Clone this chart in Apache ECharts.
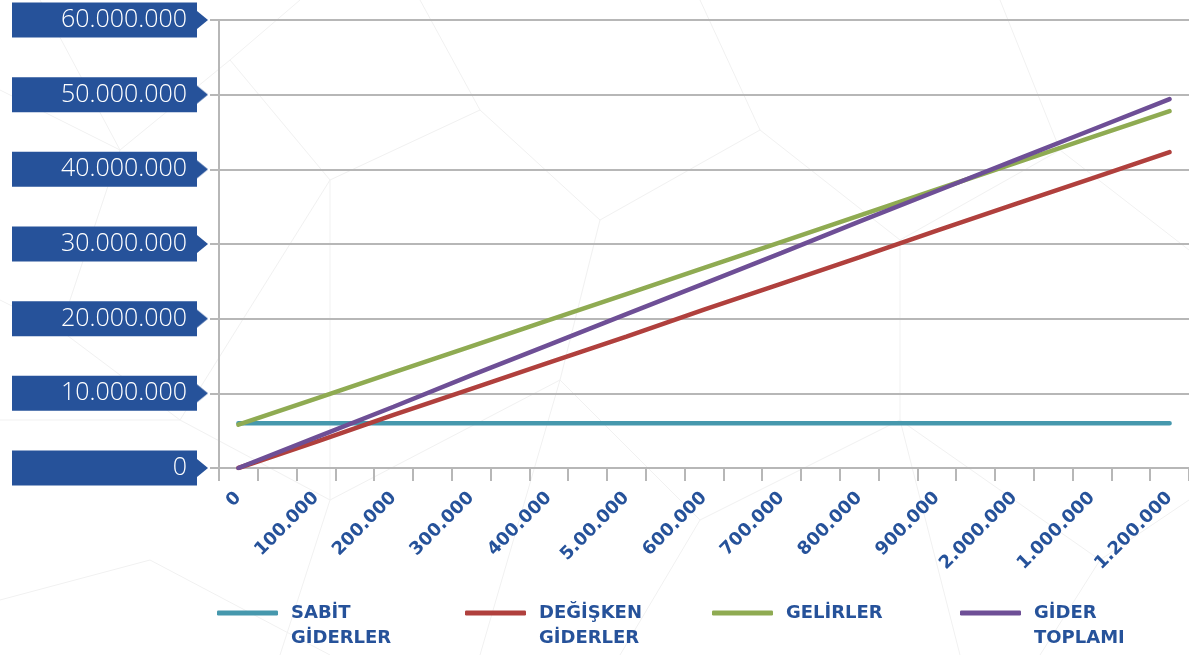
<!DOCTYPE html>
<html>
<head>
<meta charset="utf-8">
<title>Başabaş Noktası</title>
<script src="https://cdn.jsdelivr.net/npm/echarts@6/dist/echarts.min.js"></script>
<style>
html, body { margin: 0; padding: 0; background: #fff; }
#chart { width: 1189px; height: 655px; }
</style>
</head>
<body>
<div id="chart"></div>
<script>
// x ekseni etiketleri (görseldeki haliyle)
const xLabels = ['0', '100.000', '200.000', '300.000', '400.000', '5.00.000', '600.000',
    '700.000', '800.000', '900.000', '2.000.000', '1.000.000', '1.200.000'];

// seriler
const seriesNames = ['SABİT\nGİDERLER', 'DEĞİŞKEN\nGİDERLER', 'GELİRLER', 'GİDER\nTOPLAMI'];
const sabitGiderler = [6000000, 6000000, 6000000, 6000000, 6000000, 6000000, 6000000,
    6000000, 6000000, 6000000, 6000000, 6000000, 6000000];
const degiskenGiderler = [0, 3500000, 7100000, 10600000, 14100000, 17600000, 21200000,
    24700000, 28200000, 31800000, 35300000, 38800000, 42300000];
const gelirler = [5800000, 9300000, 12800000, 16300000, 19800000, 23300000, 26800000,
    30300000, 33800000, 37300000, 40800000, 44300000, 47800000];
const giderToplami = [0, 4100000, 8200000, 12400000, 16500000, 20600000, 24700000,
    28800000, 33000000, 37100000, 41200000, 45300000, 49400000];

const colors = ['#4698ad', '#b0403d', '#8fab52', '#6e4f96'];
const blue = '#26529a';
const gray = '#b7b7b7';

// her etiket arasinda bir ara tik var
const xCategories = [];
xLabels.forEach((l, i) => {
    xCategories.push(l);
    if (i < xLabels.length - 1) xCategories.push('');
});

const toPairs = arr => arr.map((v, i) => [i * 2, v]);
const fmt = v => String(v).replace(/\B(?=(\d{3})+(?!\d))/g, '.');

// etiket kutusunun ucundaki ok
const tri = document.createElement('canvas');
tri.width = 11;
tri.height = 18;
const tctx = tri.getContext('2d');
tctx.fillStyle = blue;
tctx.beginPath();
tctx.moveTo(0, 0);
tctx.lineTo(11, 9);
tctx.lineTo(0, 18);
tctx.closePath();
tctx.fill();

// arka plandaki soluk desen
const bgLines = [
    [[0, 90], [120, 150], [230, 60], [330, 180], [480, 110], [600, 220], [760, 130], [900, 240], [1060, 150], [1189, 250]],
    [[40, 0], [120, 150], [60, 330], [180, 420], [330, 180]],
    [[230, 60], [300, 0]], [[480, 110], [420, 0]], [[760, 130], [700, 0]], [[1060, 150], [1000, 0]],
    [[0, 420], [180, 420], [330, 500], [560, 380], [700, 520], [900, 420], [1100, 560], [1189, 500]],
    [[60, 330], [0, 300]], [[330, 500], [280, 655]], [[700, 520], [620, 655]], [[1100, 560], [1040, 655]],
    [[0, 600], [150, 560], [330, 655]], [[560, 380], [480, 655]], [[900, 420], [960, 655]],
    [[600, 220], [560, 380]], [[900, 240], [900, 420]], [[330, 180], [330, 500]]
];

const chart = echarts.init(document.getElementById('chart'));

const legendLeft = [217, 465, 712, 960];
const legends = seriesNames.map((n, i) => {
    const twoLines = n.indexOf('\n') >= 0;
    return {
        data: [n],
        left: legendLeft[i],
        top: twoLines ? 575.5 : 600.5,
        padding: 0,
        icon: 'roundRect',
        itemWidth: 61,
        itemHeight: 5,
        selectedMode: false,
        formatter: name => (twoLines ? '\n' : '') + name,
        textStyle: {
            color: blue,
            fontFamily: 'DejaVu Sans',
            fontWeight: 'bold',
            fontSize: 18,
            lineHeight: 25,
            padding: [0, 0, 0, 8]
        }
    };
});

const option = {
    backgroundColor: '#fff',
    animation: false,
    color: colors,
    legend: legends,
    graphic: bgLines.map(pts => ({
        type: 'polyline',
        silent: true,
        z: -10,
        shape: { points: pts },
        style: { stroke: '#f1f1f1', lineWidth: 1, fill: null }
    })),
    grid: { left: 219, right: 0, top: 20, bottom: 187, containLabel: false },
    xAxis: {
        type: 'category',
        data: xCategories,
        boundaryGap: true,
        axisLine: { lineStyle: { color: gray, width: 2 } },
        axisTick: { show: true, length: 13, lineStyle: { color: gray, width: 2 } },
        axisLabel: {
            interval: 0,
            rotate: 45,
            margin: 27,
            color: blue,
            fontFamily: 'DejaVu Sans',
            fontWeight: 'bold',
            fontSize: 18
        },
        splitLine: { show: false }
    },
    yAxis: {
        type: 'value',
        min: 0,
        max: 60000000,
        interval: 10000000,
        axisLine: { show: true, lineStyle: { color: gray, width: 2 } },
        axisTick: { show: true, length: 9, lineStyle: { color: gray, width: 2 } },
        splitLine: { lineStyle: { color: gray, width: 2 } },
        axisLabel: {
            margin: 11,
            formatter: v => '{b|' + fmt(v) + '}{a| }',
            rich: {
                b: {
                    backgroundColor: blue,
                    color: '#fff',
                    width: 175,
                    height: 35,
                    align: 'right',
                    verticalAlign: 'middle',
                    padding: [0, 10, 0, 0],
                    fontFamily: 'Open Sans',
                    fontWeight: 300,
                    fontSize: 25
                },
                a: {
                    width: 11,
                    height: 18,
                    backgroundColor: { image: tri },
                    verticalAlign: 'middle'
                }
            }
        }
    },
    series: [sabitGiderler, degiskenGiderler, gelirler, giderToplami].map((d, i) => ({
        name: seriesNames[i],
        type: 'line',
        data: toPairs(d),
        showSymbol: false,
        symbol: 'none',
        lineStyle: { width: 4.5, cap: 'round', color: colors[i] },
        itemStyle: { color: colors[i] },
        z: 3 + i
    }))
};

chart.setOption(option);
window.addEventListener('resize', () => chart.resize());
</script>
</body>
</html>
